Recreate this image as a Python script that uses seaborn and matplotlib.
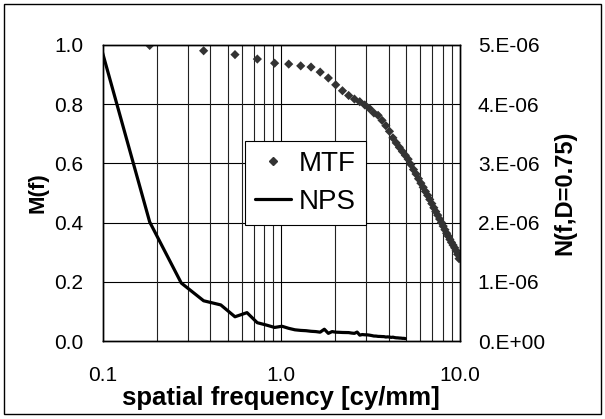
import numpy as np
import pandas as pd
import matplotlib
matplotlib.use("Agg")
import matplotlib.pyplot as plt
from matplotlib.lines import Line2D
from matplotlib.patches import Rectangle
import seaborn as sns

# MTF samples (diamonds, left axis)
mtf_freq = [0.183, 0.367, 0.550, 0.734, 0.917, 1.100, 1.284, 1.467, 1.651, 1.834,
            2.017, 2.201, 2.384, 2.568, 2.751, 2.935, 3.118, 3.301, 3.485, 3.668,
            3.852, 4.035, 4.219, 4.402, 4.585, 4.769, 4.952, 5.136, 5.319, 5.503,
            5.686, 5.869, 6.053, 6.236, 6.420, 6.603, 6.787, 6.970, 7.153, 7.337,
            7.520, 7.704, 7.887, 8.071, 8.254, 8.437, 8.621, 8.804, 8.988, 9.171,
            9.355, 9.538, 9.721, 9.905]
mtf_vals = [0.998, 0.980, 0.967, 0.952, 0.938, 0.935, 0.929, 0.925, 0.908, 0.888,
            0.865, 0.845, 0.829, 0.817, 0.808, 0.797, 0.785, 0.770, 0.762, 0.745,
            0.727, 0.708, 0.686, 0.669, 0.654, 0.640, 0.627, 0.614, 0.596, 0.579,
            0.564, 0.548, 0.533, 0.519, 0.505, 0.492, 0.478, 0.464, 0.450, 0.437,
            0.425, 0.412, 0.400, 0.388, 0.376, 0.364, 0.354, 0.343, 0.333, 0.324,
            0.315, 0.305, 0.293, 0.278]

# NPS samples (line, right axis), values in units of 1e-6
nps_freq = [0.092, 0.183, 0.275, 0.367, 0.458, 0.550, 0.642, 0.733, 0.825, 0.917,
            1.008, 1.100, 1.192, 1.284, 1.375, 1.467, 1.559, 1.650, 1.742, 1.834,
            1.925, 2.017, 2.109, 2.201, 2.292, 2.384, 2.476, 2.567, 2.659, 2.751,
            2.842, 2.934, 3.026, 3.118, 3.209, 3.301, 3.393, 3.484, 3.576, 3.668,
            3.759, 3.851, 3.943, 4.035, 4.126, 4.218, 4.310, 4.401, 4.493, 4.585,
            4.676, 4.768, 4.860, 4.952]
nps_vals = [5.24, 2.01, 0.98, 0.68, 0.61, 0.41, 0.48, 0.31, 0.27, 0.23,
            0.25, 0.215, 0.19, 0.18, 0.175, 0.165, 0.16, 0.15, 0.20, 0.13,
            0.16, 0.15, 0.148, 0.145, 0.144, 0.143, 0.135, 0.13, 0.152, 0.10,
            0.11, 0.106, 0.105, 0.10, 0.093, 0.085, 0.084, 0.079, 0.078, 0.076,
            0.075, 0.068, 0.071, 0.068, 0.062, 0.066, 0.059, 0.055, 0.054, 0.051,
            0.050, 0.046, 0.046, 0.042]

x_ticks = [0.1, 1.0, 10.0]
x_ticklabels = ["0.1", "1.0", "10.0"]
left_ticks = [0.0, 0.2, 0.4, 0.6, 0.8, 1.0]
left_ticklabels = ["0.0", "0.2", "0.4", "0.6", "0.8", "1.0"]
right_ticks = [0.0, 1e-6, 2e-6, 3e-6, 4e-6, 5e-6]
right_ticklabels = ["0.E+00", "1.E-06", "2.E-06", "3.E-06", "4.E-06", "5.E-06"]

sns.set_theme(style="white")
plt.rcParams["font.family"] = ["Liberation Sans", "DejaVu Sans"]
plt.rcParams["text.color"] = "black"
plt.rcParams["axes.labelcolor"] = "black"
plt.rcParams["xtick.color"] = "black"
plt.rcParams["ytick.color"] = "black"

mtf = pd.DataFrame({"f": mtf_freq, "M": mtf_vals})
nps = pd.DataFrame({"f": nps_freq, "N": np.array(nps_vals) * 1e-6})

fig = plt.figure(figsize=(6.05, 4.19), dpi=100)
ax = fig.add_axes([0.170, 0.186, 0.590, 0.707])
ax2 = ax.twinx()

# grid on the primary axes
ax.set_xscale("log")
ax.set_xlim(0.1, 10)
ax.set_ylim(0, 1.0)
for y in left_ticks[1:-1]:
    ax.axhline(y, color="black", lw=0.8, zorder=0)
for dec in [0.1, 1.0]:
    for k in range(2, 10):
        ax.axvline(dec * k, color="#222222", lw=0.8, zorder=0)
ax.axvline(1.0, color="black", lw=0.8, zorder=0)

sns.scatterplot(data=mtf, x="f", y="M", ax=ax, marker="D", s=22,
                color="#333333", edgecolor="none", legend=False, zorder=3)
sns.lineplot(data=nps, x="f", y="N", ax=ax2, color="black", lw=2.3,
             legend=False, zorder=3)

ax2.set_xscale("log")
ax.set_xlim(0.1, 10)
ax2.set_ylim(0, 5e-6)

ax.set_xticks(x_ticks)
ax.set_xticklabels(x_ticklabels)
ax.set_yticks(left_ticks)
ax.set_yticklabels(left_ticklabels)
ax2.set_yticks(right_ticks)
ax2.set_yticklabels(right_ticklabels)
ax.minorticks_off()
ax2.minorticks_off()

ax.tick_params(axis="x", length=0, pad=18, labelsize=15)
ax.tick_params(axis="y", length=0, pad=14, labelsize=15)
ax2.tick_params(axis="y", length=0, pad=13, labelsize=15)

ax.set_xlabel("spatial frequency [cy/mm]", fontsize=18.5, fontweight="bold", labelpad=1)
ax.set_ylabel("M(f)", fontsize=16, fontweight="bold", labelpad=4)
ax2.set_ylabel("N(f,D=0.75)", fontsize=17, fontweight="bold", labelpad=6)

for a in (ax, ax2):
    for s in a.spines.values():
        s.set_color("black")
        s.set_linewidth(1.0)

handles = [
    Line2D([], [], marker="D", color="#333333", ls="none", markersize=4),
    Line2D([], [], color="black", lw=2.3),
]
leg = ax2.legend(handles, ["MTF", "NPS"], loc="upper left",
                 bbox_to_anchor=(0.398, 0.676), fontsize=20, frameon=True,
                 fancybox=False, framealpha=1, edgecolor="black",
                 handlelength=1.3, handletextpad=0.3, borderpad=0.35,
                 labelspacing=0.45, borderaxespad=0)
leg.get_frame().set_linewidth(0.8)

fig.patches.append(Rectangle((0.007, 0.012), 0.986, 0.978, transform=fig.transFigure,
                             fill=False, edgecolor="black", lw=1.0))

fig.savefig("out.png", dpi=100)
